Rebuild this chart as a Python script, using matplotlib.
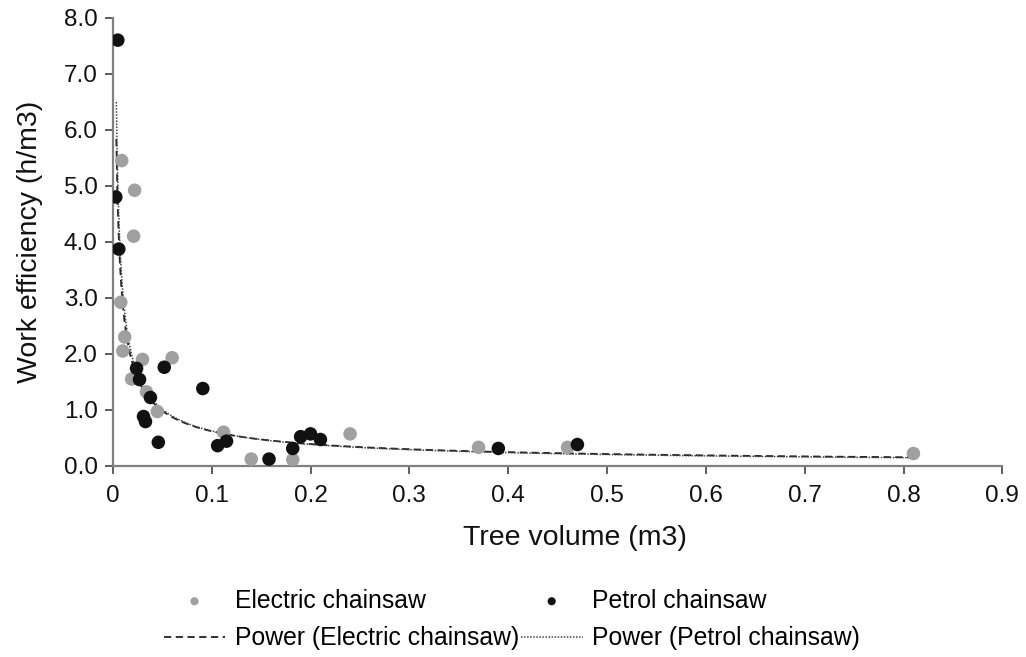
import matplotlib
matplotlib.use('Agg')
import matplotlib.pyplot as plt
import numpy as np

plt.rcParams['font.family'] = ['Liberation Sans', 'DejaVu Sans']

# Electric chainsaw (tree volume m3, work efficiency h/m3)
electric_x = [0.009, 0.022, 0.021, 0.008, 0.012, 0.010, 0.030, 0.060, 0.019,
              0.034, 0.045, 0.112, 0.140, 0.182, 0.240, 0.370, 0.460, 0.810]
electric_y = [5.45, 4.92, 4.10, 2.92, 2.30, 2.05, 1.90, 1.93, 1.55,
              1.32, 0.97, 0.60, 0.12, 0.11, 0.57, 0.33, 0.33, 0.22]

# Petrol chainsaw
petrol_x = [0.005, 0.003, 0.006, 0.024, 0.027, 0.052, 0.038, 0.091, 0.031, 0.033,
            0.046, 0.106, 0.115, 0.158, 0.182, 0.190, 0.200, 0.210, 0.390, 0.470]
petrol_y = [7.60, 4.80, 3.87, 1.74, 1.54, 1.76, 1.22, 1.38, 0.88, 0.79,
            0.42, 0.36, 0.44, 0.12, 0.31, 0.52, 0.57, 0.47, 0.31, 0.38]

# power trendlines y = a * x^b
electric_fit = (0.132, -0.67)
petrol_fit = (0.124, -0.70)
fit_range = (0.0035, 0.81)

fig = plt.figure(figsize=(10.26, 6.57), dpi=100)
ax = fig.add_axes([0.110, 0.291, 0.867, 0.682])

ax.scatter(electric_x, electric_y, s=95, color='#a0a0a0', edgecolors='none',
           label='Electric chainsaw', zorder=3)
ax.scatter(petrol_x, petrol_y, s=95, color='#111111', edgecolors='none',
           label='Petrol chainsaw', zorder=4)

xs = np.linspace(fit_range[0], fit_range[1], 800)
a, b = electric_fit
ax.plot(xs, a * xs ** b, color='#222222', lw=1.3, dashes=(4, 2.5),
        label='Power (Electric chainsaw)', zorder=2)
a, b = petrol_fit
ax.plot(xs, a * xs ** b, color='#444444', lw=1.1, linestyle=(0, (1, 1)),
        label='Power (Petrol chainsaw)', zorder=2)

ax.set_xlim(0, 0.9)
ax.set_ylim(0, 8)
ax.set_xticks(np.arange(0, 0.91, 0.1))
ax.set_xticklabels(['0'] + ['%.1f' % v for v in np.arange(0.1, 0.91, 0.1)])
ax.set_yticks(np.arange(0, 8.1, 1))
ax.set_yticklabels(['%.1f' % v for v in np.arange(0, 8.1, 1)])

for s in ['top', 'right']:
    ax.spines[s].set_visible(False)
for s in ['left', 'bottom']:
    ax.spines[s].set_color('#808080')
    ax.spines[s].set_linewidth(1.6)
ax.tick_params(axis='both', direction='out', length=6, width=1.3, color='#505050',
               labelsize=17.5, labelcolor='#111111')
ax.tick_params(axis='x', pad=8)
ax.tick_params(axis='y', pad=5)

ax.set_xlabel('Tree volume (m3)', fontsize=20.5, color='#111111')
ax.set_ylabel('Work efficiency (h/m3)', fontsize=20.5, color='#111111')
# label positions in axes coords (x label sits a bit right of centre)
ax.xaxis.set_label_coords(0.520, -0.132)
ax.yaxis.set_label_coords(-0.079, 0.5)

h, l = ax.get_legend_handles_labels()
# order: Electric, Power(Electric), Petrol, Power(Petrol) -> two columns
order = [0, 2, 1, 3]
h = [h[i] for i in order]
l = [l[i] for i in order]
fig.legend(h, l, loc='center', bbox_to_anchor=(0.499, 0.057), ncol=2, frameon=False,
           fontsize=17.8, handlelength=2.5, handletextpad=0.4, columnspacing=0.05,
           labelspacing=0.55, markerscale=0.6)

fig.savefig('out.png', dpi=100, facecolor='white')
